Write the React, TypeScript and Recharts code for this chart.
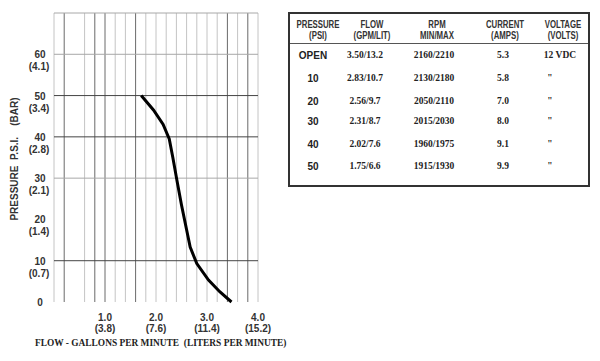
import { LineChart, Line, XAxis, YAxis, ReferenceLine } from "recharts";

// curve as drawn on the sheet (flow in GPM, pressure in PSI)
const flowGpm = [1.71, 1.95, 2.14, 2.26, 2.33, 2.41, 2.5, 2.6, 2.67, 2.8, 3.03, 3.25, 3.48];
const pressurePsi = [50, 46.5, 43, 39.5, 35, 29.5, 23.5, 17.5, 13.3, 9.3, 5.3, 2.5, 0];

const flowTicks = [1, 2, 3, 4];
const flowTicksLiters = ["3.8", "7.6", "11.4", "15.2"];
const psiTicks = [0, 10, 20, 30, 40, 50, 60];
const psiTicksBar = ["", "0.7", "1.4", "2.1", "2.8", "3.4", "4.1"];

const gridFlowDark = [0.2, 0.8, 1.0, 1.6, 3.4, 3.8];
const gridFlowLight = [0, 0.6, 1.2, 1.4, 1.8, 2.0, 2.2, 2.4, 2.6, 2.8, 3.0, 3.2, 3.6, 4.0];
const gridPsiDark = [10, 40, 50];
const gridPsiLight = [30, 60, 70];

const tablePressure = ["OPEN", "10", "20", "30", "40", "50"];
const tableFlow = ["3.50/13.2", "2.83/10.7", "2.56/9.7", "2.31/8.7", "2.02/7.6", "1.75/6.6"];
const tableRpm = ["2160/2210", "2130/2180", "2050/2110", "2015/2030", "1960/1975", "1915/1930"];
const tableCurrent = ["5.3", "5.8", "7.0", "8.0", "9.1", "9.9"];
const tableVoltage = ["12 VDC", "\"", "\"", "\"", "\"", "\""];

const headers = [
  ["PRESSURE", "(PSI)"],
  ["FLOW", "(GPM/LIT)"],
  ["RPM", "MIN/MAX"],
  ["CURRENT", "(AMPS)"],
  ["VOLTAGE", "(VOLTS)"],
];

const data = flowGpm.map((f, i) => ({ flow: f, psi: pressurePsi[i] }));

const SANS = "'Liberation Sans', Arial, sans-serif";
const SERIF = "'Liberation Serif', 'Times New Roman', serif";

function XTick(props: any) {
  const { x, payload } = props;
  const i = flowTicks.indexOf(payload.value);
  return (
    <g>
      <text x={x} y={321} textAnchor="middle" fontSize={10} fontWeight="bold" fill="#333" fontFamily={SANS}>
        {payload.value.toFixed(1)}
      </text>
      <text x={x} y={332} textAnchor="middle" fontSize={10} fontWeight="bold" fill="#333" fontFamily={SANS}>
        ({flowTicksLiters[i]})
      </text>
    </g>
  );
}

function YTick(props: any) {
  const { y, payload } = props;
  const i = psiTicks.indexOf(payload.value);
  return (
    <g>
      <text x={40} y={y + 4} textAnchor="middle" fontSize={10} fontWeight="bold" fill="#333" fontFamily={SANS}>
        {payload.value}
      </text>
      {psiTicksBar[i] && (
        <text x={39} y={y + 16} textAnchor="middle" fontSize={10} fontWeight="bold" fill="#333" fontFamily={SANS}>
          ({psiTicksBar[i]})
        </text>
      )}
    </g>
  );
}

function SpecTable() {
  const headerX = [28, 82, 147, 215, 273];
  const rowY = [41, 64, 87, 107, 130, 152];
  const cell = (x: number, y: number, text: string, style: any) => (
    <div
      style={{
        position: "absolute",
        left: x,
        top: y,
        transform: "translate(-50%, -50%)",
        whiteSpace: "pre",
        ...style,
      }}
    >
      {text}
    </div>
  );
  const headStyle = {
    fontFamily: SANS,
    fontSize: 10,
    fontWeight: "bold",
    color: "#333",
    lineHeight: "11px",
    textAlign: "center",
  };
  const serifStyle = { fontFamily: SERIF, fontSize: 9.5, fontWeight: "bold", color: "#222" };
  return (
    <div
      style={{
        position: "absolute",
        left: 288,
        top: 12,
        width: 298,
        height: 171,
        border: "2px solid #333",
        background: "#fff",
      }}
    >
      {headers.map((h, i) => (
        <div
          key={h[0]}
          style={{
            position: "absolute",
            left: headerX[i],
            top: 16,
            transform: "translate(-50%, -50%) scaleX(0.78)",
            ...headStyle,
          }}
        >
          {h[0]}
          <br />
          {h[1]}
        </div>
      ))}
      <div style={{ position: "absolute", left: 0, right: 0, top: 29, borderTop: "1px solid #555" }} />
      {tablePressure.map((p, i) => (
        <div key={p}>
          {cell(23, rowY[i], p, { fontFamily: SANS, fontSize: 10, fontWeight: "bold", color: "#222" })}
          {cell(75, rowY[i], tableFlow[i], serifStyle)}
          {cell(144, rowY[i], tableRpm[i], serifStyle)}
          {cell(213, rowY[i], tableCurrent[i], serifStyle)}
          {cell(i === 0 ? 270 : 260, rowY[i], tableVoltage[i], serifStyle)}
        </div>
      ))}
    </div>
  );
}

export default function App() {
  return (
    <div
      style={{
        position: "absolute",
        left: 0,
        top: 0,
        width: 600,
        height: 361,
        background: "#fff",
        overflow: "hidden",
      }}
    >
      <LineChart
        width={600}
        height={361}
        data={data}
        margin={{ top: 13, right: 342, bottom: 19, left: 0 }}
      >
        {gridFlowLight.map((v) => (
          <ReferenceLine key={"xl" + v} x={v} stroke="#c4c4c4" strokeWidth={1} />
        ))}
        {gridFlowDark.map((v) => (
          <ReferenceLine key={"xd" + v} x={v} stroke="#6a6a6a" strokeWidth={1} />
        ))}
        {gridPsiLight.map((v) => (
          <ReferenceLine key={"yl" + v} y={v} stroke="#a8a8a8" strokeWidth={1} />
        ))}
        {gridPsiDark.map((v) => (
          <ReferenceLine key={"yd" + v} y={v} stroke="#444" strokeWidth={1} />
        ))}
        <XAxis
          type="number"
          dataKey="flow"
          domain={[0, 4]}
          ticks={flowTicks}
          axisLine={false}
          tickLine={false}
          height={40}
          tick={<XTick />}
          interval={0}
        />
        <YAxis
          type="number"
          dataKey="psi"
          domain={[0, 70]}
          ticks={psiTicks}
          axisLine={false}
          tickLine={false}
          width={54}
          tick={<YTick />}
          interval={0}
        />
        <Line
          type="linear"
          dataKey="psi"
          stroke="#000"
          strokeWidth={3}
          dot={false}
          isAnimationActive={false}
        />
      </LineChart>
      <div
        style={{
          position: "absolute",
          left: 14,
          top: 159,
          transform: "translate(-50%, -50%) rotate(-90deg)",
          whiteSpace: "pre",
          fontFamily: SANS,
          fontSize: 10,
          fontWeight: "bold",
          color: "#333",
        }}
      >
        {"PRESSURE  P.S.I.    (BAR)"}
      </div>
      <div
        style={{
          position: "absolute",
          left: 35,
          top: 338,
          whiteSpace: "pre",
          fontFamily: SERIF,
          fontSize: 9.4,
          fontWeight: "bold",
          color: "#222",
        }}
      >
        {"FLOW - GALLONS PER MINUTE  (LITERS PER MINUTE)"}
      </div>
      <SpecTable />
    </div>
  );
}
